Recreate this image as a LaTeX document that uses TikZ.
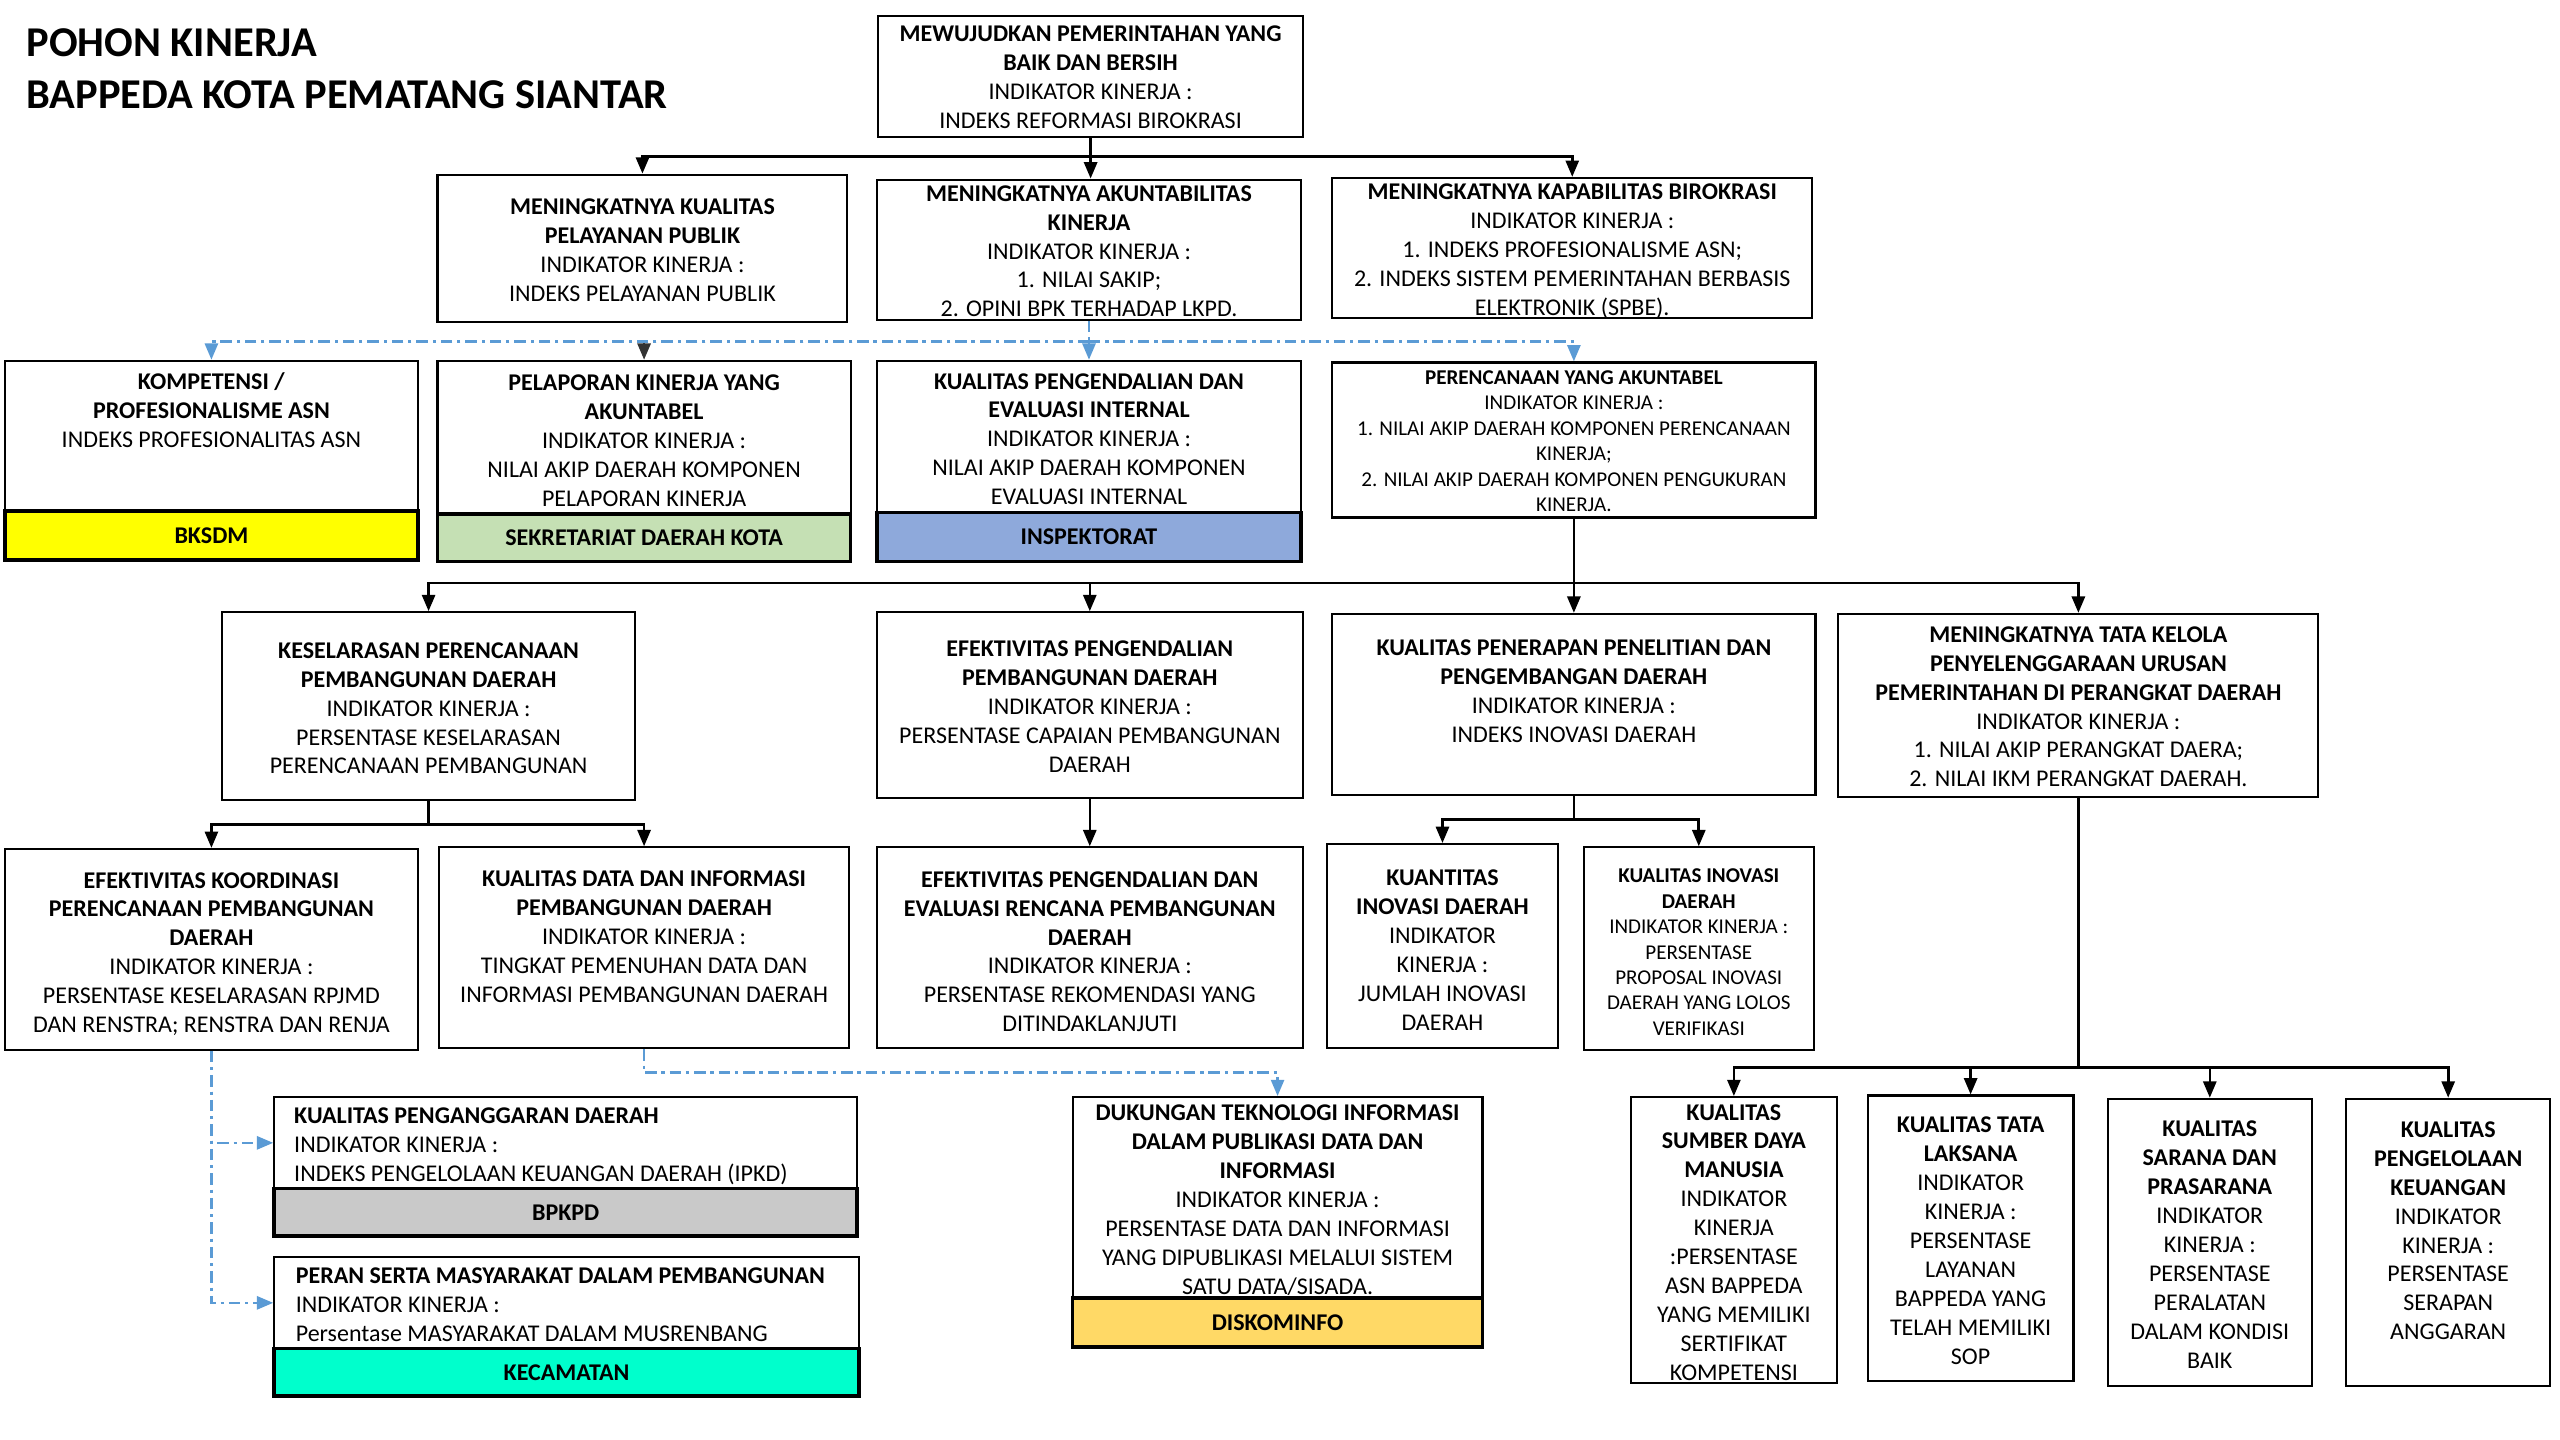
\documentclass[tikz,border=0pt]{standalone}
\usepackage{fontspec}
\setmainfont{Carlito}
\usetikzlibrary{fit,arrows.meta}
\definecolor{cYel}{HTML}{FFFF00}
\definecolor{cGrn}{HTML}{C5E0B4}
\definecolor{cBlu}{HTML}{8EA9DB}
\definecolor{cGry}{HTML}{C9C9C9}
\definecolor{cCyn}{HTML}{00FFCC}
\definecolor{cGld}{HTML}{FFD966}
\definecolor{cLine}{HTML}{5B9BD5}
\tikzset{
  bx/.style={draw, line width=1.3pt, inner sep=0pt},
  band/.style={draw, line width=2.2pt, inner sep=0pt},
  bandtxt/.style={inner sep=0pt, yshift=0pt, font=\fontsize{14.7}{17.7}\selectfont\bfseries},
  txt/.style={align=center, inner sep=0pt, yshift=-3.5pt, font=\fontsize{14.7}{17.7}\selectfont,
     execute at begin node=\strut, execute at end node=\strut},
  small/.style={font=\fontsize{12.9}{15.6}\selectfont},
  ttl/.style={anchor=west, inner sep=0pt, font=\fontsize{26}{32}\selectfont\bfseries},
  conn/.style={line width=1.6pt, -{Triangle[length=10pt,width=8pt]}},
  plain/.style={line width=1.6pt},
  dd/.style={cLine, line width=1.6pt, dash pattern=on 7pt off 3pt on 2pt off 3pt},
  ddarr/.style={dd, -{Triangle[length=10pt,width=8pt]}},
  dk/.style={black!80, line width=1.6pt, dash pattern=on 7pt off 3pt on 2pt off 3pt, -{Triangle[length=10pt,width=8pt]}}
}
\newcommand\PB[7][]{%
  \node[bx, fit={(#3,#4) (#5,#6)}] (#2) {};
  \node[txt,#1] (#2-t) at ({(#3+#5)/2},#7) {\PBtext};}
\newcommand\BD[7]{%
  \node[band, fill=#6, fit={(#2,#3) (#4,#5)}] (#1) {};
  \node[bandtxt] (#1-l) at (#1.center) {#7};}
\begin{document}
\begin{tikzpicture}[x=1pt,y=-1pt]
\useasboundingbox (0,0) rectangle (1568,882);
% title
\node[ttl] (title1) at (16,26) {POHON KINERJA};
\node[ttl] (title2) at (16,58) {BAPPEDA KOTA PEMATANG SIANTAR};

% level 0
\def\PBtext{\textbf{MEWUJUDKAN PEMERINTAHAN YANG}\\\textbf{BAIK DAN BERSIH}\\INDIKATOR KINERJA :\\INDEKS REFORMASI BIROKRASI}
\PB{top}{538}{10}{798}{84}{46.5}
% level 1
\def\PBtext{\textbf{MENINGKATNYA KUALITAS}\\\textbf{PELAYANAN PUBLIK}\\INDIKATOR KINERJA :\\INDEKS PELAYANAN PUBLIK}
\PB{ba}{268}{107}{519}{197}{152.5}
\def\PBtext{\textbf{MENINGKATNYA AKUNTABILITAS}\\\textbf{KINERJA}\\INDIKATOR KINERJA :\\1. NILAI SAKIP;\\2. OPINI BPK TERHADAP LKPD.}
\PB{bb}{537}{110}{797}{196}{153}
\def\PBtext{\textbf{MENINGKATNYA KAPABILITAS BIROKRASI}\\INDIKATOR KINERJA :\\1. INDEKS PROFESIONALISME ASN;\\2. INDEKS SISTEM PEMERINTAHAN BERBASIS\\ELEKTRONIK (SPBE).}
\PB{bc}{816}{109}{1110}{195}{152}

% level 2
\def\PBtext{\textbf{KOMPETENSI /}\\\textbf{PROFESIONALISME ASN}\\INDEKS PROFESIONALITAS ASN}
\PB{ra}{3}{221}{256}{313}{250.5}
\BD{ra-b}{3}{313}{256}{343}{cYel}{BKSDM}
\def\PBtext{\textbf{PELAPORAN KINERJA YANG}\\\textbf{AKUNTABEL}\\INDIKATOR KINERJA :\\NILAI AKIP DAERAH KOMPONEN\\PELAPORAN KINERJA}
\PB{rb}{268}{221}{521}{315}{269}
\BD{rb-b}{268}{315}{521}{344}{cGrn}{SEKRETARIAT DAERAH KOTA}
\def\PBtext{\textbf{KUALITAS PENGENDALIAN DAN}\\\textbf{EVALUASI INTERNAL}\\INDIKATOR KINERJA :\\NILAI AKIP DAERAH KOMPONEN\\EVALUASI INTERNAL}
\PB{rc}{537}{221}{797}{314}{268}
\BD{rc-b}{537}{314}{797}{344}{cBlu}{INSPEKTORAT}
\def\PBtext{\textbf{PERENCANAAN YANG AKUNTABEL}\\INDIKATOR KINERJA :\\1. NILAI AKIP DAERAH KOMPONEN PERENCANAAN\\KINERJA;\\2. NILAI AKIP DAERAH KOMPONEN PENGUKURAN\\KINERJA.}
\PB[small]{rd}{816}{222}{1112}{317}{269}

% level 3
\def\PBtext{\textbf{KESELARASAN PERENCANAAN}\\\textbf{PEMBANGUNAN DAERAH}\\INDIKATOR KINERJA :\\PERSENTASE KESELARASAN\\PERENCANAAN PEMBANGUNAN}
\PB{sa}{136}{375}{389}{490}{433}
\def\PBtext{\textbf{EFEKTIVITAS PENGENDALIAN}\\\textbf{PEMBANGUNAN DAERAH}\\INDIKATOR KINERJA :\\PERSENTASE CAPAIAN PEMBANGUNAN\\DAERAH}
\PB{sb}{537}{375}{798}{489}{432}
\def\PBtext{\textbf{KUALITAS PENERAPAN PENELITIAN DAN}\\\textbf{PENGEMBANGAN DAERAH}\\INDIKATOR KINERJA :\\INDEKS INOVASI DAERAH}
\PB{sc}{816}{376}{1112}{487}{422.5}
\def\PBtext{\textbf{MENINGKATNYA TATA KELOLA}\\\textbf{PENYELENGGARAAN URUSAN}\\\textbf{PEMERINTAHAN DI PERANGKAT DAERAH}\\INDIKATOR KINERJA :\\1. NILAI AKIP PERANGKAT DAERA;\\2. NILAI IKM PERANGKAT DAERAH.}
\PB{sd}{1126}{376}{1420}{488}{432}

% level 4
\def\PBtext{\textbf{EFEKTIVITAS KOORDINASI}\\\textbf{PERENCANAAN PEMBANGUNAN}\\\textbf{DAERAH}\\INDIKATOR KINERJA :\\PERSENTASE KESELARASAN RPJMD\\DAN RENSTRA; RENSTRA DAN RENJA}
\PB{ta}{3}{520}{256}{643}{582.5}
\def\PBtext{\textbf{KUALITAS DATA DAN INFORMASI}\\\textbf{PEMBANGUNAN DAERAH}\\INDIKATOR KINERJA :\\TINGKAT PEMENUHAN DATA DAN\\INFORMASI PEMBANGUNAN DAERAH}
\PB{tb}{269}{519}{520}{642}{573}
\def\PBtext{\textbf{EFEKTIVITAS PENGENDALIAN DAN}\\\textbf{EVALUASI RENCANA PEMBANGUNAN}\\\textbf{DAERAH}\\INDIKATOR KINERJA :\\PERSENTASE REKOMENDASI YANG\\DITINDAKLANJUTI}
\PB{tc}{537}{519}{798}{642}{582}
\def\PBtext{\textbf{KUANTITAS}\\\textbf{INOVASI DAERAH}\\INDIKATOR\\KINERJA :\\JUMLAH INOVASI\\DAERAH}
\PB{td}{813}{517}{954}{642}{581}
\def\PBtext{\textbf{KUALITAS INOVASI}\\\textbf{DAERAH}\\INDIKATOR KINERJA :\\PERSENTASE\\PROPOSAL INOVASI\\DAERAH YANG LOLOS\\VERIFIKASI}
\PB[small]{te}{970}{519}{1111}{643}{582}

% level 5
\node[bx, fit={(168,672) (525,728)}] (ua) {};
\node[txt, align=left, anchor=west] (ua-t) at (180,700) {\textbf{KUALITAS PENGANGGARAN DAERAH}\\INDIKATOR KINERJA :\\INDEKS PENGELOLAAN KEUANGAN DAERAH (IPKD)};
\BD{ua-b}{168}{728}{525}{757}{cGry}{BPKPD}
\node[bx, fit={(168,770) (526,826)}] (ub) {};
\node[txt, align=left, anchor=west] (ub-t) at (181,798) {\textbf{PERAN SERTA MASYARAKAT DALAM PEMBANGUNAN}\\INDIKATOR KINERJA :\\Persentase MASYARAKAT DALAM MUSRENBANG};
\BD{ub-b}{168}{826}{526}{855}{cCyn}{KECAMATAN}
\def\PBtext{\textbf{DUKUNGAN TEKNOLOGI INFORMASI}\\\textbf{DALAM PUBLIKASI DATA DAN}\\\textbf{INFORMASI}\\INDIKATOR KINERJA :\\PERSENTASE DATA DAN INFORMASI\\YANG DIPUBLIKASI MELALUI SISTEM\\SATU DATA/SISADA.}
\PB{uc}{657}{672}{908}{795}{734}
\BD{uc-b}{657}{795}{908}{825}{cGld}{DISKOMINFO}
\def\PBtext{\textbf{KUALITAS}\\\textbf{SUMBER DAYA}\\\textbf{MANUSIA}\\INDIKATOR\\KINERJA\\:PERSENTASE\\ASN BAPPEDA\\YANG MEMILIKI\\SERTIFIKAT\\KOMPETENSI}
\PB{ud}{999}{672}{1125}{847}{760}
\def\PBtext{\textbf{KUALITAS TATA}\\\textbf{LAKSANA}\\INDIKATOR\\KINERJA :\\PERSENTASE\\LAYANAN\\BAPPEDA YANG\\TELAH MEMILIKI\\SOP}
\PB{ue}{1144}{671}{1270}{846}{759}
\def\PBtext{\textbf{KUALITAS}\\\textbf{SARANA DAN}\\\textbf{PRASARANA}\\INDIKATOR\\KINERJA :\\PERSENTASE\\PERALATAN\\DALAM KONDISI\\BAIK}
\PB{uf}{1291}{673}{1416}{849}{761.5}
\def\PBtext{\textbf{KUALITAS}\\\textbf{PENGELOLAAN}\\\textbf{KEUANGAN}\\INDIKATOR\\KINERJA :\\PERSENTASE\\SERAPAN\\ANGGARAN}
\PB{ug}{1437}{673}{1562}{849}{753}

% ---------- connectors ----------
\coordinate (j1) at (668,96);
\draw[plain] (top.south) -- (j1);
\draw[conn] (j1) -| (ba.north);
\draw[conn] (j1) -| (bc.north);
\draw[conn] (j1) -- (j1 |- bb.north);

\coordinate (j2) at (667,209);
\draw[dk] (j2) -| (rb.north);
\draw[dd] (bb.south) -- (j2);
\draw[ddarr] (j2) -| (ra.north);
\draw[ddarr] (j2) -| (rd.north);
\draw[ddarr] (j2) -- (rc.north);

\coordinate (j3) at (964,357);
\draw[plain] (rd.south) -- (j3);
\draw[conn] (j3) -| (sa.north);
\draw[conn] (j3) -| (sb.north);
\draw[conn] (j3) -| (sd.north);
\draw[conn] (j3) -- (sc.north);

\coordinate (j4) at (262.5,505);
\draw[plain] (sa.south) -- (j4);
\draw[conn] (j4) -| (ta.north);
\draw[conn] (j4) -| (tb.north);

\draw[conn] (sb.south) -- (tc.north);

\coordinate (j5) at (964,502);
\draw[plain] (sc.south) -- (j5);
\draw[conn] (j5) -| (td.north);
\draw[conn] (j5) -| (te.north);

\coordinate (j6) at (1273,654);
\draw[plain] (sd.south) -- (j6);
\draw[conn] (j6) -| (ud.north);
\draw[conn] (j6) -| (ue.north);
\draw[conn] (j6) -| (uf.north);
\draw[conn] (j6) -| (ug.north);

\draw[ddarr] (ta.south) |- (ua.west);
\draw[ddarr] (ta.south) |- (ub.west);

\coordinate (j7) at (394.5,657);
\draw[ddarr] (tb.south) -- (j7) -| (uc.north);
\end{tikzpicture}
\end{document}
